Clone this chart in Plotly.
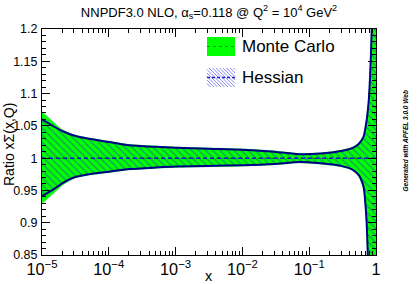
import plotly.graph_objects as go

# ---------------- data ----------------
x_vals = [1e-5, 1.5e-5, 2e-5, 3e-5, 5e-5, 1e-4, 2e-4, 5e-4, 1e-3, 3e-3, 1e-2,
          3e-2, 7e-2, 0.15, 0.3, 0.45, 0.55, 0.65, 0.72, 0.78, 0.84, 0.9, 0.95, 1.0]

hes_upper = [1.060, 1.049, 1.042, 1.035, 1.030, 1.025, 1.020, 1.0175, 1.016, 1.0145, 1.013,
             1.010, 1.006, 1.007, 1.011, 1.016, 1.022, 1.033, 1.057, 1.090, 1.160, 1.270, 1.400, 1.600]
hes_lower = [0.941, 0.952, 0.961, 0.970, 0.975, 0.979, 0.983, 0.9855, 0.987, 0.988, 0.989,
             0.991, 0.994, 0.992, 0.988, 0.982, 0.974, 0.956, 0.905, 0.800, 0.700, 0.550, 0.400, 0.300]

mc_upper = [1.072, 1.055, 1.044, 1.036, 1.031, 1.026, 1.021, 1.0185, 1.017, 1.0155, 1.014,
            1.011, 1.007, 1.008, 1.012, 1.017, 1.023, 1.034, 1.059, 1.093, 1.165, 1.280, 1.420, 1.620]
mc_lower = [0.930, 0.946, 0.958, 0.969, 0.974, 0.978, 0.982, 0.9845, 0.986, 0.987, 0.988,
            0.990, 0.993, 0.991, 0.987, 0.981, 0.972, 0.953, 0.900, 0.790, 0.690, 0.540, 0.390, 0.280]

central = [1.0] * len(x_vals)

y_tick0 = 0.85
x_range_log = [-5, 0]
y_range = [0.85, 1.2]

legend_labels = ["Monte Carlo", "Hessian"]
title_text = "NNPDF3.0 NLO, α<sub>s</sub>=0.118 @ Q<sup>2</sup> = 10<sup>4</sup> GeV<sup>2</sup>"
ytitle_text = "Ratio xΣ(x,Q)"
xtitle_text = "x"
side_text = "<b><i>Generated with APFEL 3.0.0 Web</i></b>"

# ---------------- layout geometry ----------------
W, H = 419, 284
L, R, T, B = 42, 43, 29, 29
PW, PH = W - L - R, H - T - B
FONT = "Liberation Sans, Arial, sans-serif"


def px_x(p):
    return (p - L) / PW


def px_y(p):
    return (H - B - p) / PH


GREEN = "#00ff00"
NAVY = "#00008b"
BLUE_DASH = "#1a1acc"

fig = go.Figure()

# Monte Carlo band
fig.add_trace(go.Scatter(x=x_vals, y=mc_lower, mode="lines", line=dict(color="#33ee33", width=1, shape="spline", smoothing=0.6),
                         showlegend=False, hoverinfo="skip"))
fig.add_trace(go.Scatter(x=x_vals, y=mc_upper, mode="lines", fill="tonexty", fillcolor=GREEN,
                         line=dict(color="#33ee33", width=1, shape="spline", smoothing=0.6),
                         showlegend=False, hoverinfo="skip"))
fig.add_trace(go.Scatter(x=x_vals, y=central, mode="lines", line=dict(color="#009900", width=1, dash="dot"),
                         showlegend=False, hoverinfo="skip"))

# Hessian band (hatched)
fig.add_trace(go.Scatter(x=x_vals, y=hes_lower, mode="lines", line=dict(color=NAVY, width=0, shape="spline", smoothing=0.6),
                         showlegend=False, hoverinfo="skip"))
fig.add_trace(go.Scatter(x=x_vals, y=hes_upper, mode="lines", fill="tonexty",
                         fillpattern=dict(shape="\\", fgcolor="#2a2ac8", bgcolor="rgba(0,0,0,0)", size=5, solidity=0.25),
                         line=dict(color=NAVY, width=0, shape="spline", smoothing=0.6),
                         showlegend=False, hoverinfo="skip"))
fig.add_trace(go.Scatter(x=x_vals, y=hes_upper, mode="lines", line=dict(color=NAVY, width=2, shape="spline", smoothing=0.6),
                         showlegend=False, hoverinfo="skip"))
fig.add_trace(go.Scatter(x=x_vals, y=hes_lower, mode="lines", line=dict(color=NAVY, width=2, shape="spline", smoothing=0.6),
                         showlegend=False, hoverinfo="skip"))
fig.add_trace(go.Scatter(x=x_vals, y=central, mode="lines", line=dict(color=BLUE_DASH, width=1.5, dash="4px,3px"),
                         showlegend=False, hoverinfo="skip"))

# ---------------- custom legend ----------------
shapes = []
annotations = []
bx0, bx1 = 207, 235
mc_box = (37, 56)
hs_box = (68, 87)
shapes.append(dict(type="rect", xref="paper", yref="paper", x0=px_x(bx0), x1=px_x(bx1),
                   y0=px_y(mc_box[1]), y1=px_y(mc_box[0]), fillcolor=GREEN, line=dict(width=0)))
ymid = (mc_box[0] + mc_box[1]) / 2
shapes.append(dict(type="line", xref="paper", yref="paper", x0=px_x(bx0), x1=px_x(bx1),
                   y0=px_y(ymid), y1=px_y(ymid), line=dict(color="#009900", width=1, dash="dot")))
# hatched box
y0b, y1b = hs_box
spacing = 3.5
c = bx0 - y1b
while c < bx1 - y0b:
    xa = max(bx0, y0b + c)
    xb = min(bx1, y1b + c)
    if xb > xa:
        shapes.append(dict(type="line", xref="paper", yref="paper",
                           x0=px_x(xa), y0=px_y(xa - c), x1=px_x(xb), y1=px_y(xb - c),
                           line=dict(color="#8a8af0", width=1)))
    c += spacing
ymid2 = (y0b + y1b) / 2
shapes.append(dict(type="line", xref="paper", yref="paper", x0=px_x(bx0), x1=px_x(bx1),
                   y0=px_y(ymid2), y1=px_y(ymid2), line=dict(color=BLUE_DASH, width=1.5, dash="3px,2px")))

for lab, yc in zip(legend_labels, [ymid, ymid2]):
    annotations.append(dict(text=lab, xref="paper", yref="paper", x=px_x(240), y=px_y(yc),
                            xanchor="left", yanchor="middle", showarrow=False,
                            font=dict(family=FONT, size=17, color="black")))

annotations.append(dict(text=side_text, xref="paper", yref="paper", x=px_x(405), y=px_y(141.5),
                        xanchor="center", yanchor="middle", textangle=-90, showarrow=False,
                        font=dict(family=FONT, size=6.5, color="black")))
annotations.append(dict(text=ytitle_text, xref="paper", yref="paper", x=px_x(9), y=px_y(145),
                        xanchor="center", yanchor="middle", textangle=-90, showarrow=False,
                        font=dict(family=FONT, size=14, color="black")))
annotations.append(dict(text=xtitle_text, xref="paper", yref="paper", x=px_x(209), y=px_y(276),
                        xanchor="center", yanchor="middle", showarrow=False,
                        font=dict(family=FONT, size=14.5, color="black")))

fig.update_layout(
    width=W, height=H,
    margin=dict(l=L, r=R, t=T, b=B, autoexpand=False),
    paper_bgcolor="white", plot_bgcolor="white",
    font=dict(family=FONT, size=13, color="black"),
    title=dict(text=title_text, x=0.5, xref="paper", y=1 - 12 / H, yref="container",
               xanchor="center", yanchor="middle",
               font=dict(family=FONT, size=13, color="black")),
    shapes=shapes,
    annotations=annotations,
    showlegend=False,
)

fig.update_xaxes(type="log", range=x_range_log, dtick=1, tick0=0, exponentformat="power",
                 showgrid=False, zeroline=False, showline=True, linecolor="black", linewidth=1,
                 mirror="allticks", ticks="inside", ticklen=8, tickcolor="black",
                 minor=dict(ticks="inside", ticklen=4, dtick="D1", tickcolor="black", showgrid=False),
                 tickfont=dict(size=13))
fig.update_yaxes(range=y_range, dtick=0.05, tick0=y_tick0,
                 showgrid=False, zeroline=False, showline=True, linecolor="black", linewidth=1,
                 mirror="allticks", ticks="inside", ticklen=8, tickcolor="black",
                 minor=dict(ticks="inside", ticklen=4, dtick=0.01, tickcolor="black", showgrid=False),
                 tickfont=dict(size=12.5), ticklabelstandoff=1)

fig.write_html("out.html", config={"displayModeBar": False},
               post_script="document.body.style.margin='0px';document.body.style.overflow='hidden';")
